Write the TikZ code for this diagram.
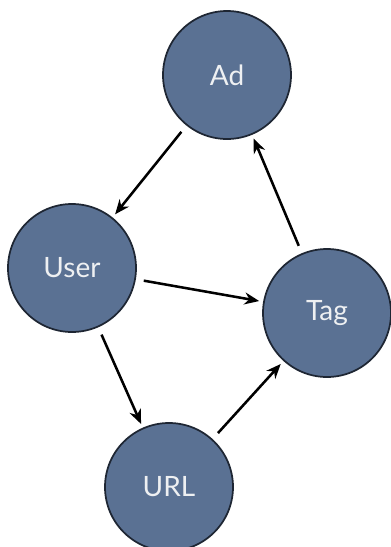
\documentclass[tikz,border=0pt]{standalone}
\usepackage{fontspec}
\setmainfont{Lato}
\usepackage{xcolor}
\usepackage{tikz}
\usetikzlibrary{arrows.meta}
\definecolor{nodefill}{HTML}{5A7193}
\definecolor{nodeline}{HTML}{1E2633}
\definecolor{nodetext}{HTML}{EEF0F2}
\tikzset{
  arr/.style={-{Stealth[length=11pt,width=9pt]},line width=1.9pt,
    shorten <=6pt,shorten >=3pt},
  ent/.style={circle,minimum size=96pt,inner sep=0pt,draw=nodeline,
    line width=1.3pt,fill=nodefill,text=nodetext,
    font=\fontsize{21}{25}\selectfont},
}
\begin{document}
\begin{tikzpicture}[x=0.75pt,y=-0.75pt]
\useasboundingbox (0,0) rectangle (390,547);

% entities
\node[ent] (Ad)   at (227,75)  {Ad};
\node[ent] (User) at (72,268)  {User};
\node[ent] (Tag)  at (327,313) {Tag};
\node[ent] (URL)  at (169,487) {URL};

% links
\draw[arr] (Ad) -- (User);
\draw[arr] (User) -- (Tag);
\draw[arr] (User) -- (URL);
\draw[arr] (URL) -- (Tag);
\draw[arr] (Tag) -- (Ad);
\end{tikzpicture}
\end{document}
